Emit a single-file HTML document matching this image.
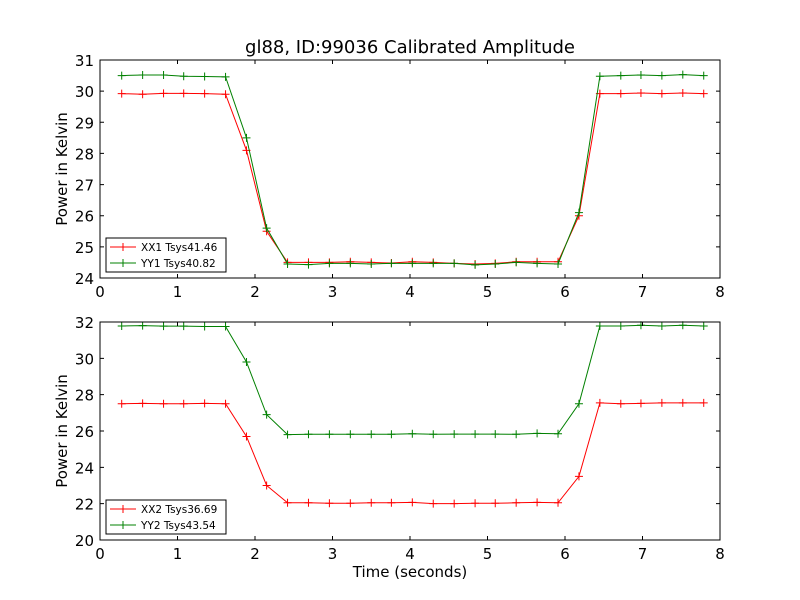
<!DOCTYPE html>
<html><head><meta charset="utf-8"><style>
body{margin:0;background:#fff;}
svg{display:block;font-family:"DejaVu Sans","Liberation Sans",sans-serif;}
</style></head><body>
<svg id="chart" width="800" height="600"></svg>
<script>
const xs=[0.28,0.55,0.82,1.08,1.35,1.62,1.89,2.15,2.42,2.69,2.96,3.23,3.5,3.76,4.03,4.3,4.57,4.84,5.1,5.37,5.64,5.91,6.18,6.45,6.72,6.98,7.25,7.52,7.79];
const xx1=[29.92,29.9,29.93,29.93,29.92,29.9,28.1,25.5,24.5,24.5,24.5,24.52,24.5,24.48,24.52,24.5,24.47,24.45,24.47,24.52,24.52,24.52,26.0,29.92,29.92,29.94,29.92,29.94,29.92];
const yy1=[30.5,30.52,30.52,30.48,30.47,30.46,28.5,25.6,24.45,24.43,24.47,24.47,24.45,24.47,24.47,24.47,24.47,24.42,24.45,24.5,24.47,24.45,26.1,30.48,30.5,30.52,30.5,30.53,30.5];
const xx2=[27.5,27.52,27.5,27.5,27.52,27.5,25.7,23.0,22.05,22.05,22.02,22.02,22.05,22.05,22.07,22.0,22.0,22.02,22.02,22.05,22.07,22.05,23.5,27.55,27.5,27.52,27.55,27.55,27.55];
const yy2=[31.78,31.8,31.77,31.77,31.75,31.75,29.8,26.9,25.8,25.82,25.82,25.82,25.82,25.82,25.85,25.82,25.83,25.83,25.83,25.82,25.87,25.85,27.5,31.78,31.78,31.82,31.78,31.82,31.78];
const xTicks=[0,1,2,3,4,5,6,7,8];
const yTicks1=[24,25,26,27,28,29,30,31];
const yTicks2=[20,22,24,26,28,30,32];
const labels1=["XX1 Tsys41.46","YY1 Tsys40.82"];
const labels2=["XX2 Tsys36.69","YY2 Tsys43.54"];
const NS="http://www.w3.org/2000/svg";
const svg=document.getElementById('chart');
function mk(t,a,p){const e=document.createElementNS(NS,t);for(const k in a)e.setAttribute(k,a[k]);(p||svg).appendChild(e);return e;}
const L=100,R=720;
function sx(v){return L+(v-0)/8*(R-L);}
function panel(top,bot,ymin,ymax,yt,series,labs,name){
  const g=mk('g',{});
  
  
  const sy=v=>bot-(v-ymin)/(ymax-ymin)*(bot-top);
  const cols=['#ff0000','#008000'];
  series.forEach((s,i)=>{
    const pts=xs.map((x,j)=>sx(x)+','+sy(s[j])).join(' ');
    const pl=mk('polyline',{points:pts,fill:'none',stroke:cols[i],'stroke-width':1},g);
    
    
    xs.forEach((x,j)=>{const cx=sx(x),cy=sy(s[j]);
      mk('path',{d:`M${cx-4},${cy}H${cx+4}M${cx},${cy-4}V${cy+4}`,stroke:cols[i],'stroke-width':1},g);});
  });
  mk('rect',{x:L,y:top,width:R-L,height:bot-top,fill:'none',stroke:'#000','stroke-width':1},g);
  xTicks.forEach(t=>{const x=sx(t);
    mk('path',{d:`M${x},${bot}v-4M${x},${top}v4`,stroke:'#000'},g);
    const tx=mk('text',{x:x,y:bot+19,'text-anchor':'middle','font-size':15},g);tx.textContent=t;
    
    });
  yt.forEach(t=>{const y=sy(t);
    mk('path',{d:`M${L},${y}h4M${R},${y}h-4`,stroke:'#000'},g);
    const tx=mk('text',{x:L-6,y:y+6,'text-anchor':'end','font-size':15},g);tx.textContent=t;
    
    });
  const yl=mk('text',{x:0,y:0,'text-anchor':'middle','font-size':15,transform:`translate(67,${(top+bot)/2}) rotate(-90)`},g);
  yl.textContent='Power in Kelvin';
  
  
  const lg=mk('g',{},g);
  
  
  mk('rect',{x:106,y:bot-40,width:120,height:34,fill:'#fff',stroke:'#000'},lg);
  labs.forEach((l,i)=>{const y=bot-31+i*16;
    mk('path',{d:`M110,${y}h26M123,${y-4}v8`,stroke:cols[i]},lg);
    const tx=mk('text',{x:141,y:y+4,'font-size':10.5},lg);tx.textContent=l;
    
    });
}
panel(60,278,24,31,yTicks1,[xx1,yy1],labels1,'top-panel');
panel(322,540,20,32,yTicks2,[xx2,yy2],labels2,'bottom-panel');
const t=mk('text',{x:410,y:53,'text-anchor':'middle','font-size':18});t.textContent='gl88, ID:99036 Calibrated Amplitude';


const xl=mk('text',{x:410,y:577,'text-anchor':'middle','font-size':15});xl.textContent='Time (seconds)';


</script>
</body></html>
